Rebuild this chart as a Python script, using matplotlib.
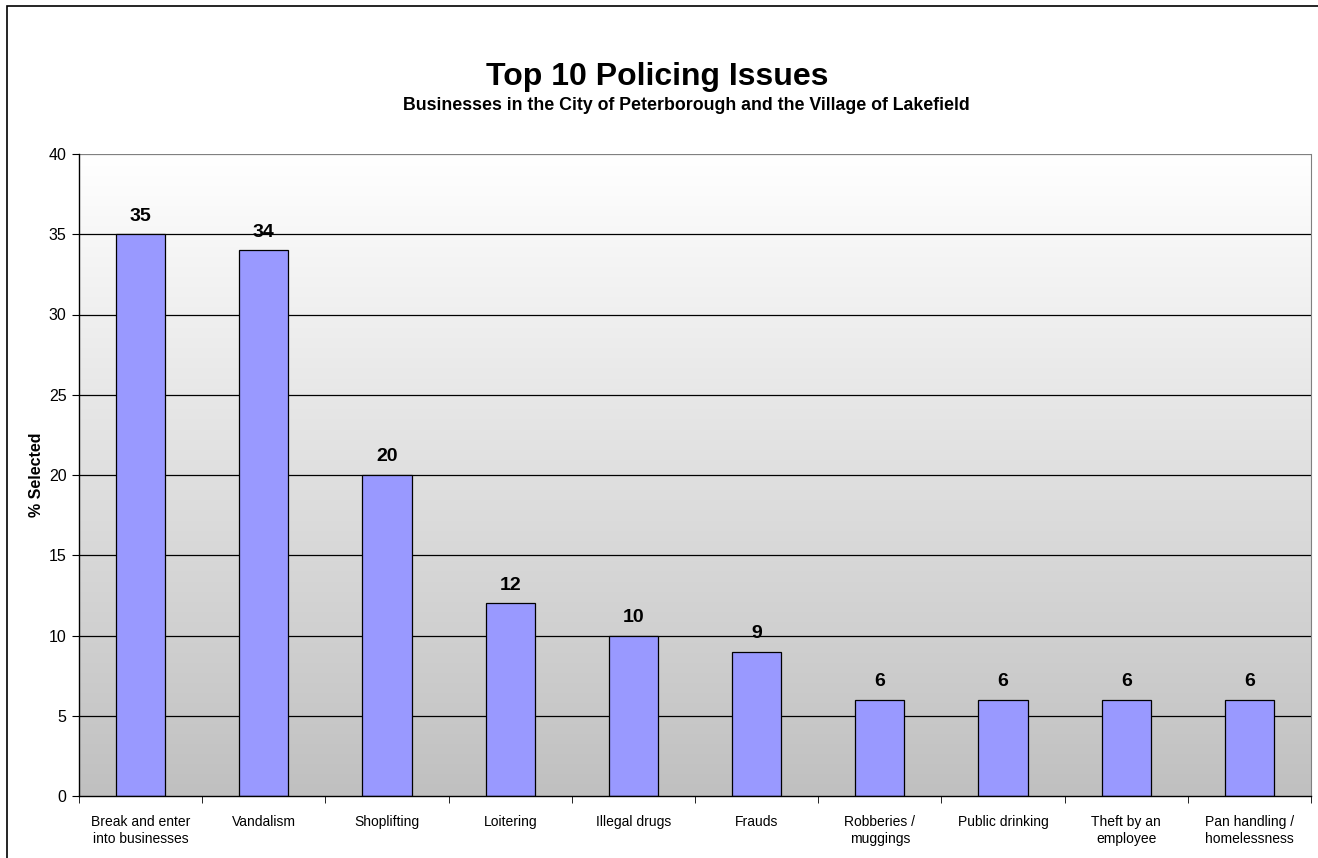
import numpy as np
import matplotlib.pyplot as plt
from matplotlib.patches import Rectangle
from matplotlib.colors import LinearSegmentedColormap

plt.rcParams['font.family'] = ['Liberation Sans', 'DejaVu Sans']

categories = ["Break and enter\ninto businesses", "Vandalism", "Shoplifting", "Loitering",
              "Illegal drugs", "Frauds", "Robberies /\nmuggings", "Public drinking",
              "Theft by an\nemployee", "Pan handling /\nhomelessness"]
values = [35, 34, 20, 12, 10, 9, 6, 6, 6, 6]
yticks = [0, 5, 10, 15, 20, 25, 30, 35, 40]

W, H = 1318, 858
fig = plt.figure(figsize=(W / 100, H / 100), dpi=100)
ax = fig.add_axes([79 / W, 1 - 796 / H, (1311 - 79) / W, (796 - 154) / H])

# outer chart border (cropped at right/bottom)
fig.patches.append(Rectangle((7 / W, -0.1), 1.2, 1 - 6 / H + 0.1, transform=fig.transFigure,
                             fill=False, edgecolor='black', linewidth=1.2, zorder=0))

x = np.arange(len(categories))
ax.set_xlim(-0.5, len(categories) - 0.5)
ax.set_ylim(0, 40)

# gradient background, gray at bottom to white on top
grad = np.linspace(0.0, 1.0, 256).reshape(-1, 1)
cmap = LinearSegmentedColormap.from_list('g', ['#c0c0c0', '#ffffff'])
ax.imshow(grad, extent=(-0.5, len(categories) - 0.5, 0, 40), aspect='auto',
          cmap=cmap, zorder=0, origin='lower')

for y in yticks[1:]:
    ax.axhline(y, color='black' if y < 40 else '#808080', linewidth=0.9, zorder=1)

bars = ax.bar(x, values, width=0.4, color='#9999ff', edgecolor='black', linewidth=0.9, zorder=2)
for xi, v in zip(x, values):
    ax.text(xi, v + 0.6, str(v), ha='center', va='bottom', fontsize=14, fontweight='bold')

ax.set_yticks(yticks)
ax.set_xticks(x)
ax.set_xticklabels(categories, fontsize=10, linespacing=1.25)
ax.set_xticks(np.arange(len(categories) + 1) - 0.5, minor=True)
ax.tick_params(axis='x', which='major', length=0, pad=14)
ax.tick_params(axis='x', which='minor', length=5, direction='out')
ax.tick_params(axis='y', labelsize=11.5, length=5, direction='out', pad=4)
ax.set_ylabel('% Selected', fontsize=11.5, fontweight='bold', labelpad=3)

ax.spines['top'].set_visible(False)
ax.spines['right'].set_color('#808080')
ax.spines['left'].set_linewidth(1)
ax.spines['bottom'].set_linewidth(1)

fig.text(657 / W, 1 - 77 / H, 'Top 10 Policing Issues', ha='center', va='center',
         fontsize=23, fontweight='bold')
fig.text(686 / W, 1 - 105 / H,
         'Businesses in the City of Peterborough and the Village of Lakefield',
         ha='center', va='center', fontsize=12.8, fontweight='bold')

fig.savefig('out.png', dpi=100)
